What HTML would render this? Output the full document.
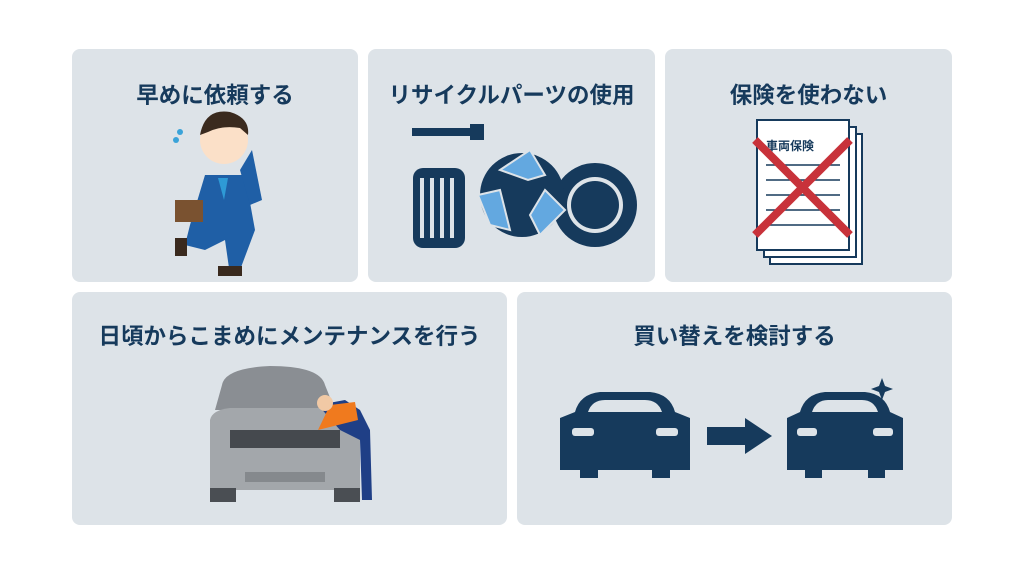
<!DOCTYPE html>
<html><head><meta charset="utf-8"><style>
body{margin:0;width:1024px;height:576px;background:#fff;position:relative;overflow:hidden;font-family:"Liberation Sans","Noto Sans CJK JP",sans-serif}
.p{position:absolute;background:#dde3e8;border-radius:8px}
.t{position:absolute;left:0;right:0;text-align:center;font-weight:bold;font-size:22.5px;color:#163a5c;line-height:30px}
svg{position:absolute;left:0;top:0}
</style></head><body>
<div class="p" style="left:72px;top:49px;width:286px;height:233px"><div class="t" style="top:32px">早めに依頼する</div></div>
<div class="p" style="left:368px;top:49px;width:287px;height:233px"><div class="t" style="top:32px">リサイクルパーツの使用</div></div>
<div class="p" style="left:665px;top:49px;width:287px;height:233px"><div class="t" style="top:32px">保険を使わない</div></div>
<div class="p" style="left:72px;top:292px;width:435px;height:233px"><div class="t" style="top:30px">日頃からこまめにメンテナンスを行う</div></div>
<div class="p" style="left:517px;top:292px;width:435px;height:233px"><div class="t" style="top:30px">買い替えを検討する</div></div>
<svg width="1024" height="576">
<g>
<path d="M205 175 L245 175 L255 230 L240 270 L230 275 L225 240 L205 250 L185 245 L190 225 Z" fill="#1f5fa6"/>
<path d="M240 170 L252 150 L262 200 L250 205 Z" fill="#1f5fa6"/>
<rect x="175" y="200" width="28" height="22" fill="#7a5230"/>
<circle cx="224" cy="140" r="24" fill="#fbe0c8"/>
<path d="M200 135 Q205 108 230 112 Q250 118 248 135 L240 128 Q222 125 208 132 Z" fill="#3a2a1e"/>
<path d="M218 178 L228 178 L224 200 Z" fill="#2e9ad6"/>
<rect x="175" y="238" width="12" height="18" fill="#3a2a1e"/>
<rect x="218" y="266" width="24" height="10" fill="#3a2a1e"/>
<circle cx="180" cy="132" r="3" fill="#3aa3d9"/><circle cx="176" cy="140" r="3" fill="#3aa3d9"/>
</g>
<g fill="#163a5c">
<rect x="412" y="128" width="70" height="8"/><rect x="470" y="124" width="14" height="16"/>
<rect x="413" y="168" width="52" height="80" rx="10"/>
<circle cx="595" cy="205" r="42"/>
<circle cx="522" cy="195" r="42"/>
</g>
<circle cx="595" cy="205" r="28" fill="#dde3e8"/><circle cx="595" cy="205" r="24" fill="#163a5c"/>
<g fill="#dde3e8"><rect x="420" y="178" width="4" height="60"/><rect x="430" y="178" width="4" height="60"/><rect x="440" y="178" width="4" height="60"/><rect x="450" y="178" width="4" height="60"/></g>
<g fill="#63a8e0" stroke="#dde3e8" stroke-width="2">
<path d="M500 170 L530 150 L545 175 L528 180 Z"/><path d="M545 190 L565 210 L540 235 L530 215 Z"/><path d="M490 225 L478 195 L500 190 L510 230 Z"/></g>
<g stroke="#163a5c" stroke-width="2" fill="#fff">
<rect x="770" y="134" width="92" height="130"/><rect x="764" y="127" width="92" height="130"/><rect x="757" y="120" width="92" height="130"/></g>
<text x="766" y="150" font-size="12" font-weight="bold" fill="#163a5c" font-family="Liberation Sans,Noto Sans CJK JP,sans-serif">車両保険</text>
<g stroke="#163a5c" stroke-width="1.5"><line x1="766" y1="165" x2="840" y2="165"/><line x1="766" y1="180" x2="840" y2="180"/><line x1="766" y1="195" x2="840" y2="195"/><line x1="766" y1="210" x2="840" y2="210"/><line x1="766" y1="225" x2="840" y2="225"/></g>
<g stroke="#c8323a" stroke-width="8"><line x1="755" y1="140" x2="850" y2="235"/><line x1="850" y1="140" x2="755" y2="235"/></g>
<path d="M222 385 Q225 368 270 366 Q320 366 325 385 L335 410 L215 410 Z" fill="#8a8e93"/>
<path d="M210 420 Q212 410 230 408 L340 408 Q358 410 360 425 L360 490 L210 490 Z" fill="#a3a7ab"/>
<rect x="230" y="430" width="110" height="18" fill="#45494e"/>
<rect x="210" y="488" width="26" height="14" fill="#4a4e53"/><rect x="334" y="488" width="26" height="14" fill="#4a4e53"/>
<rect x="245" y="472" width="80" height="10" fill="#85898d"/>
<path d="M318 405 L345 400 L360 410 L370 430 L372 500 L362 500 L360 440 L340 430 Z" fill="#1f3f86"/>
<path d="M330 405 L355 402 L358 420 L318 430 Z" fill="#f07a1e"/>
<circle cx="325" cy="403" r="8" fill="#f1c9a5"/>
<g fill="#163a5c">
<path d="M575 412 Q580 394 600 392 L650 392 Q670 394 675 412 L690 418 L690 470 L670 470 L670 478 L652 478 L652 470 L598 470 L598 478 L580 478 L580 470 L560 470 L560 418 Z"/>
<path d="M800 412 Q805 394 825 392 L865 392 Q885 394 890 412 L903 418 L903 470 L885 470 L885 478 L868 478 L868 470 L822 470 L822 478 L805 478 L805 470 L787 470 L787 418 Z"/>
<rect x="707" y="427" width="40" height="18"/><path d="M745 418 L772 436 L745 454 Z"/>
<path d="M882 378 l3 8 8 3 -8 3 -3 8 -3 -8 -8 -3 8 -3z"/>
</g>
<g fill="#dde3e8"><path d="M588 412 Q592 400 605 400 L645 400 Q658 400 662 412 Z"/><path d="M812 412 Q816 400 828 400 L862 400 Q874 400 878 412 Z"/>
<rect x="572" y="428" width="22" height="8" rx="3"/><rect x="656" y="428" width="22" height="8" rx="3"/>
<rect x="797" y="428" width="20" height="8" rx="3"/><rect x="873" y="428" width="20" height="8" rx="3"/></g>
</svg>
</body></html>
